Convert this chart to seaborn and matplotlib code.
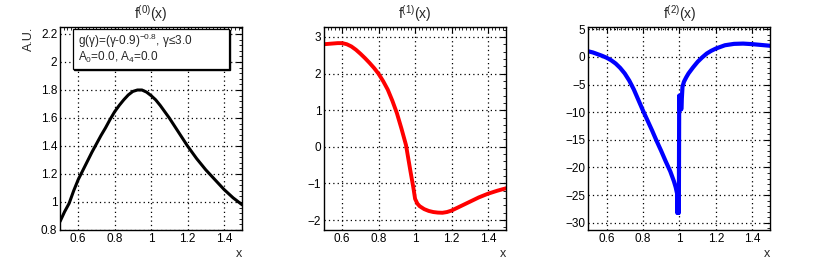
import numpy as np
import pandas as pd
import matplotlib
matplotlib.use('Agg')
import matplotlib.pyplot as plt
import seaborn as sns
from matplotlib.ticker import MultipleLocator, FuncFormatter, AutoMinorLocator
from matplotlib.patches import Rectangle

# f(0): black curve
x0 = [0.50, 0.525, 0.55, 0.575, 0.60, 0.625, 0.65, 0.675, 0.70, 0.725, 0.75,
      0.775, 0.80, 0.825, 0.85, 0.875, 0.90, 0.925, 0.95, 0.975, 1.00, 1.025,
      1.05, 1.10, 1.15, 1.20, 1.25, 1.30, 1.35, 1.40, 1.45, 1.50]
y0 = [0.86, 0.93, 0.99, 1.08, 1.16, 1.225, 1.29, 1.355, 1.415, 1.475, 1.53,
      1.59, 1.645, 1.69, 1.73, 1.765, 1.79, 1.80, 1.80, 1.785, 1.76, 1.73,
      1.69, 1.60, 1.50, 1.40, 1.31, 1.23, 1.16, 1.09, 1.03, 0.98]

# f(1): red curve
x1 = [0.50, 0.525, 0.55, 0.575, 0.60, 0.625, 0.65, 0.675, 0.70, 0.725, 0.75,
      0.775, 0.80, 0.825, 0.85, 0.875, 0.90, 0.925, 0.95, 0.975, 0.99, 1.00,
      1.0125, 1.025, 1.05, 1.075, 1.10, 1.125, 1.15, 1.175, 1.20, 1.25, 1.30,
      1.35, 1.40, 1.45, 1.50]
y1 = [2.80, 2.81, 2.82, 2.83, 2.83, 2.80, 2.74, 2.65, 2.54, 2.42, 2.29,
      2.15, 1.99, 1.79, 1.56, 1.26, 0.92, 0.50, 0.05, -0.68, -1.10, -1.42,
      -1.55, -1.62, -1.70, -1.75, -1.78, -1.795, -1.80, -1.78, -1.74, -1.62, -1.50,
      -1.38, -1.28, -1.20, -1.13]

# f(2): blue curve (with the spike around x=1)
x2 = [0.50, 0.525, 0.55, 0.575, 0.60, 0.625, 0.65, 0.675, 0.70, 0.725, 0.75,
      0.775, 0.80, 0.825, 0.85, 0.875, 0.90, 0.925, 0.95, 0.97, 0.98,
      0.988, 0.988, 0.991, 0.993, 0.995, 0.997, 0.999, 1.001, 1.003, 1.005,
      1.008, 1.010, 1.017, 1.025, 1.0375, 1.05, 1.075, 1.10, 1.125, 1.15,
      1.175, 1.20, 1.25, 1.30, 1.35, 1.40, 1.45, 1.50]
y2 = [1.0, 0.8, 0.5, 0.2, -0.15, -0.6, -1.2, -2.0, -3.0, -4.3, -5.9,
      -7.8, -9.7, -11.5, -13.3, -15.2, -17.0, -18.9, -20.7, -22.5, -23.6,
      -24.8, -28.2, -25.0, -28.2, -25.0, -28.2, -7.0, -9.5, -7.0, -9.5,
      -7.2, -9.5, -5.4, -4.5, -3.7, -3.0, -1.9, -0.9, -0.1, 0.6,
      1.1, 1.5, 2.1, 2.35, 2.4, 2.3, 2.15, 2.0]

titles = [r'f$^{(0)}$(x)', r'f$^{(1)}$(x)', r'f$^{(2)}$(x)']
colors = ['black', 'red', 'blue']
ylims = [(0.8, 2.25), (-2.27, 3.27), (-31.3, 5.4)]
ymajor = [0.2, 1, 5]
widths = [2.2, 2.8, 3.0]

sns.set_style('white')
plt.rcParams['font.family'] = ['Liberation Sans', 'DejaVu Sans']
plt.rcParams['mathtext.fontset'] = 'custom'
plt.rcParams['mathtext.rm'] = 'Liberation Sans'
plt.rcParams['mathtext.it'] = 'Liberation Sans'
plt.rcParams['mathtext.default'] = 'regular'

fig = plt.figure(figsize=(8.3, 2.58), dpi=100)
lefts = [60 / 830, 324 / 830, 588.3 / 830]
width = 0.2195
bottom = 1 - 230 / 258
height = (230 - 27) / 258


def fmt(v, pos):
    s = '%g' % round(v, 6)
    return s.replace('-', '\u2212')


data = [(x0, y0), (x1, y1), (x2, y2)]
for i in range(3):
    ax = fig.add_axes([lefts[i], bottom, width, height])
    df = pd.DataFrame({'x': data[i][0], 'y': data[i][1]})
    sns.lineplot(data=df, x='x', y='y', ax=ax, color=colors[i], sort=False,
                 estimator=None, linewidth=widths[i])
    ax.set_xlim(0.5, 1.5)
    ax.set_ylim(*ylims[i])
    ax.xaxis.set_major_locator(MultipleLocator(0.2))
    ax.yaxis.set_major_locator(MultipleLocator(ymajor[i]))
    ax.xaxis.set_minor_locator(AutoMinorLocator(10))
    ax.yaxis.set_minor_locator(AutoMinorLocator(5))
    ax.xaxis.set_major_formatter(FuncFormatter(fmt))
    ax.yaxis.set_major_formatter(FuncFormatter(fmt))
    ax.tick_params(which='both', direction='in', top=True, right=True,
                   labelsize=8.5, colors='black', pad=2)
    ax.tick_params(which='major', length=4, width=0.8)
    ax.tick_params(which='minor', length=2, width=0.6)
    ax.grid(True, which='major', color='black', linestyle=(0, (1, 2.5)),
            linewidth=0.9)
    for sp in ax.spines.values():
        sp.set_color('black')
        sp.set_linewidth(1.0)
    ax.set_title(titles[i], fontsize=10, pad=6)
    ax.set_xlabel('x', loc='right', fontsize=9, labelpad=2)
    ax.set_ylabel('A.U.' if i == 0 else '', loc='top', fontsize=9, labelpad=4)

    if i == 0:
        # info box with a thin shadow
        shadow = Rectangle((0.077, 0.786), 0.858, 0.197, transform=ax.transAxes,
                           facecolor='black', edgecolor='black', zorder=4)
        ax.add_patch(shadow)
        box = Rectangle((0.071, 0.793), 0.858, 0.197, transform=ax.transAxes,
                        facecolor='white', edgecolor='black', linewidth=0.9,
                        zorder=5)
        ax.add_patch(box)
        ax.text(0.1, 0.931, 'g(γ)=(γ-0.9)$^{-0.8}$, γ≤3.0', transform=ax.transAxes,
                fontsize=8.5, va='center', ha='left', zorder=6)
        ax.text(0.1, 0.852, 'A$_{0}$=0.0, A$_{4}$=0.0', transform=ax.transAxes,
                fontsize=8.5, va='center', ha='left', zorder=6)

fig.savefig('out.png', dpi=100)
